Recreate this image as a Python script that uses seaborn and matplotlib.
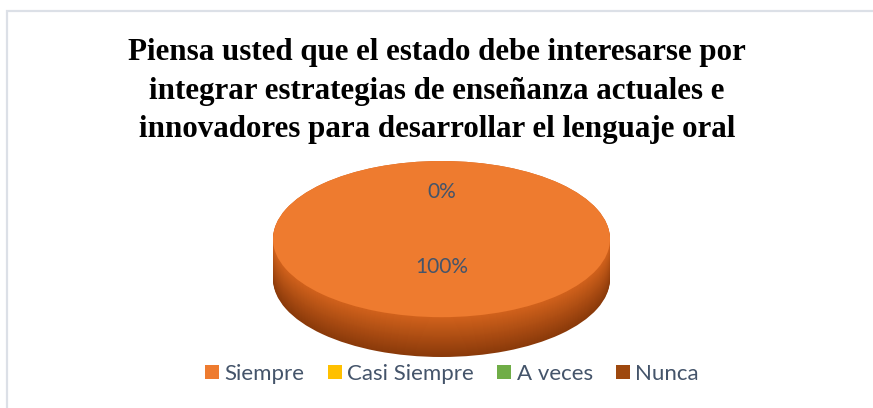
import numpy as np
import matplotlib
matplotlib.use("Agg")
import matplotlib.pyplot as plt
import matplotlib.colors as mcolors
from matplotlib.patches import Rectangle
import seaborn as sns

# ---- data ----
categories = ["Siempre", "Casi Siempre", "A veces", "Nunca"]
values = [100, 0, 0, 0]
slice_colors = ["#EE7B2F", "#FFC000", "#70AD47", "#9E480E"]
title = ("Piensa usted que el estado debe interesarse por\n"
         "integrar estrategias de enseñanza actuales e\n"
         "innovadores para desarrollar el lenguaje oral")

sns.set_theme(style="white")
plt.rcParams['font.family'] = ['Lato', 'DejaVu Sans']

W, H = 873, 408
fig = plt.figure(figsize=(W / 100, H / 100), dpi=100)
fig.patch.set_facecolor("white")

# outer chart border (cropped on right and bottom)
fig.patches.append(Rectangle((6.5 / W, -0.05), 1.0, (H - 10.5) / H + 0.05,
                             transform=fig.transFigure, fill=False,
                             edgecolor="#DCE0E7", linewidth=1.6))

# pie axes (ellipse by non-equal aspect)
left, right, top, bottom = 273, 610, 161, 357
ax = fig.add_axes([left / W, (H - bottom) / H, (right - left) / W, (bottom - top) / H])
depth = 0.51

# side of the 3D pie: stacked layers, dark at bottom -> lighter near top
n = 40
c_dark = np.array(mcolors.to_rgb("#8A3A0A"))
c_light = np.array(mcolors.to_rgb("#D2621C"))
for i, t in enumerate(np.linspace(depth, 0.0, n)):
    f = i / (n - 1)
    col = c_dark * (1 - f) + c_light * f
    ax.pie(values, colors=[col] * len(values), startangle=90, counterclock=False,
           center=(0, -t), radius=1.0, wedgeprops=dict(linewidth=0))

# top face
wedges, texts, autotexts = ax.pie(
    values, colors=slice_colors, startangle=90, counterclock=False,
    center=(0, 0), radius=1.0, autopct="%1.0f%%", pctdistance=0.6,
    wedgeprops=dict(linewidth=0),
    textprops=dict(color="#44546A", fontsize=15))
for at in autotexts:
    at.set_zorder(10)
# the zero slices share one position: show a single label
for at in autotexts[2:]:
    at.set_visible(False)
autotexts[0].set_position((0, -0.36))

ax.set_xlim(-1.0, 1.0)
ax.set_ylim(-1.0 - depth, 1.0)
ax.set_aspect("auto")
ax.axis("off")

# title
fig.text(437 / W, 1 - 91 / H, title, ha="center", va="center",
         fontsize=22.3, fontweight="bold", family=["Liberation Serif"],
         color="black", linespacing=1.42)

# legend
leg = fig.legend(wedges, categories, loc="center", ncol=4,
                 bbox_to_anchor=(452 / W, 1 - 374 / H), frameon=False,
                 handlelength=0.62, handleheight=0.62, handletextpad=0.25,
                 columnspacing=1.05, fontsize=16, labelcolor="#44546A")

fig.savefig("out.png", dpi=100, facecolor="white")
